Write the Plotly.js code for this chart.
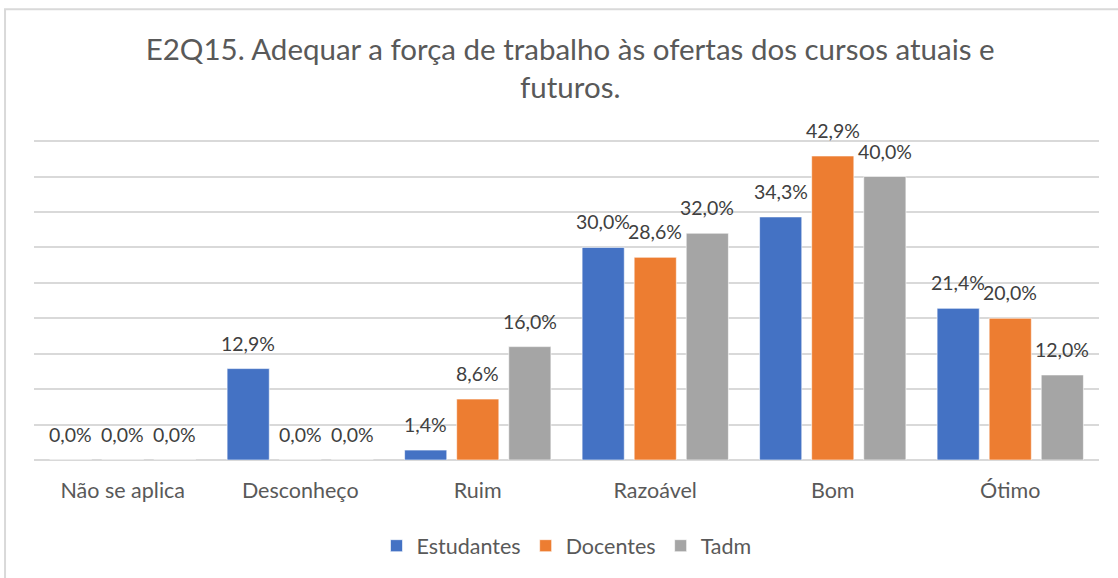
<!DOCTYPE html>
<html>
<head>
<meta charset="utf-8">
<script src="https://cdn.plot.ly/plotly-3.0.1.min.js"></script>
<style>
html,body{margin:0;padding:0;background:#fff;}
#chart{width:1118px;height:578px;}
</style>
</head>
<body>
<div id="chart"></div>
<script>
const categories = ["Não se aplica", "Desconheço", "Ruim", "Razoável", "Bom", "Ótimo"];
const seriesNames = ["Estudantes", "Docentes", "Tadm"];
const estudantes = [0.0, 12.9, 1.4, 30.0, 34.3, 21.4];
const docentes = [0.0, 0.0, 8.6, 28.6, 42.9, 20.0];
const tadm = [0.0, 0.0, 16.0, 32.0, 40.0, 12.0];
const colors = ["#4472C4", "#ED7D31", "#A5A5A5"];
const titleText = "E2Q15. Adequar a força de trabalho às ofertas dos cursos atuais e<br>futuros.";

const FONT = "Lato, 'Open Sans', sans-serif";
const fmt = v => v.toFixed(1).replace('.', ',') + '%';
const seriesList = [estudantes, docentes, tadm];

const traces = seriesList.map((vals, i) => ({
  type: 'bar',
  name: seriesNames[i],
  x: categories,
  y: vals,
  marker: {color: colors[i], line: {color: 'rgba(255,255,255,0.6)', width: 1}},
  hoverinfo: 'x+y'
}));

// data labels as annotations, offset per series within the group
const groupStep = 52;
const annotations = [];
seriesList.forEach((vals, i) => {
  vals.forEach((v, j) => {
    annotations.push({
      x: categories[j], y: v, xref: 'x', yref: 'y',
      text: fmt(v), showarrow: false,
      xanchor: 'center', yanchor: 'bottom',
      xshift: (i - 1) * groupStep, yshift: 12,
      font: {family: FONT, size: 19.5, color: '#404040'}
    });
  });
});

const layout = {
  width: 1118, height: 578,
  margin: {l: 34, r: 19, t: 134, b: 115},
  paper_bgcolor: '#fff', plot_bgcolor: '#fff',
  title: {text: titleText, font: {family: FONT, size: 29.5, color: '#595959'}, x: 0.51, xanchor: 'center', yref: 'container', y: 0.897, yanchor: 'top'},
  barmode: 'group',
  bargap: 0.12,
  bargroupgap: 0.19,
  showlegend: true,
  legend: {orientation: 'h', x: 0.5, xanchor: 'center', y: -0.2, yanchor: 'top', font: {family: FONT, size: 21.5, color: '#595959'}, traceorder: 'normal'},
  xaxis: {showgrid: false, showline: false, zeroline: false, ticks: '', tickfont: {family: FONT, size: 21.5, color: '#595959'}, ticklabelstandoff: 15},
  yaxis: {range: [0, 46], tickvals: [0, 5, 10, 15, 20, 25, 30, 35, 40, 45], showgrid: true, gridcolor: '#D9D9D9', gridwidth: 2, showticklabels: false, zeroline: true, zerolinecolor: '#D9D9D9', zerolinewidth: 2, ticks: ''},
  annotations: annotations,
  shapes: [{type: 'rect', xref: 'paper', yref: 'paper', x0: -0.0272, x1: 1.05, y0: -0.5, y1: 1.383, line: {color: '#D9D9D9', width: 2}, fillcolor: 'rgba(0,0,0,0)', layer: 'below'}],
  font: {family: FONT}
};

Plotly.newPlot('chart', traces, layout, {displayModeBar: false, staticPlot: true});
</script>
</body>
</html>
